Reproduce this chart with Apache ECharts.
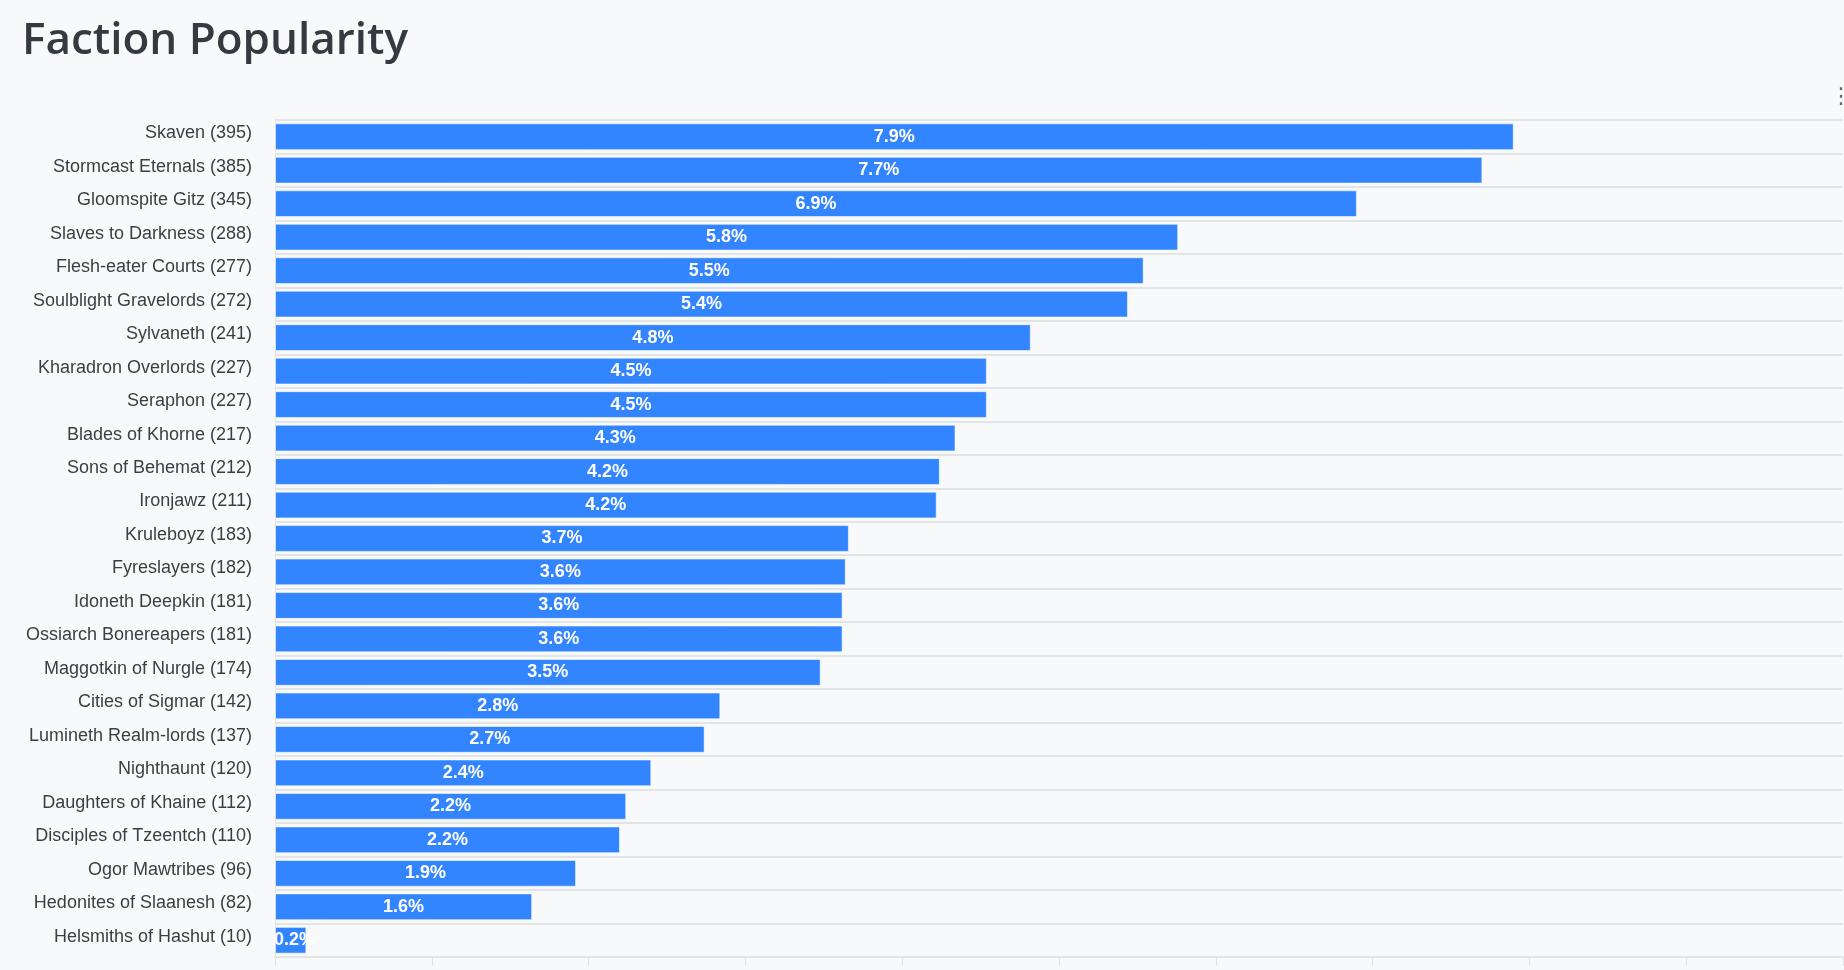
<!DOCTYPE html>
<html>
<head>
<meta charset="utf-8">
<script src="https://cdn.jsdelivr.net/npm/echarts@6/dist/echarts.min.js"></script>
<style>
html,body{margin:0;padding:0;background:#f8f9fa;}
#c{width:1844px;height:970px;}
</style>
</head>
<body>
<div id="c"></div>
<script>
const factions = ["Skaven","Stormcast Eternals","Gloomspite Gitz","Slaves to Darkness","Flesh-eater Courts","Soulblight Gravelords","Sylvaneth","Kharadron Overlords","Seraphon","Blades of Khorne","Sons of Behemat","Ironjawz","Kruleboyz","Fyreslayers","Idoneth Deepkin","Ossiarch Bonereapers","Maggotkin of Nurgle","Cities of Sigmar","Lumineth Realm-lords","Nighthaunt","Daughters of Khaine","Disciples of Tzeentch","Ogor Mawtribes","Hedonites of Slaanesh","Helsmiths of Hashut"];
const counts = [395,385,345,288,277,272,241,227,227,217,212,211,183,182,181,181,174,142,137,120,112,110,96,82,10];
const percents = ["7.9%","7.7%","6.9%","5.8%","5.5%","5.4%","4.8%","4.5%","4.5%","4.3%","4.2%","4.2%","3.7%","3.6%","3.6%","3.6%","3.5%","2.8%","2.7%","2.4%","2.2%","2.2%","1.9%","1.6%","0.2%"];
const axisMin = 0, axisMax = 500, axisStep = 50;
const titleText = "Faction Popularity";

const labels = factions.map((f,i)=>f+" ("+counts[i]+")");
const chart = echarts.init(document.getElementById('c'));
chart.setOption({
  backgroundColor:'#f8f9fa',
  animation:false,
  title:{text:titleText,left:17,top:14,textStyle:{fontFamily:'Open Sans',fontSize:44,fontWeight:600,color:'#343a40'}},
  graphic:[{type:'text',right:-8,top:86,style:{text:'⋮',fontSize:22,fill:'#666',fontFamily:'DejaVu Sans'}}],
  grid:{left:275,right:1,top:120,bottom:13,containLabel:false},
  xAxis:{type:'value',min:axisMin,max:axisMax,interval:axisStep,
    axisLabel:{show:false},
    axisLine:{show:true,lineStyle:{color:'#e3e4e6',width:2}},
    axisTick:{show:true,length:9,lineStyle:{color:'#e3e4e6',width:1}},
    splitLine:{show:false}},
  yAxis:{type:'category',data:labels,inverse:true,
    axisLine:{show:true,lineStyle:{color:'#e3e4e6',width:1}},
    axisTick:{show:false},
    axisLabel:{margin:23,formatter:v=>'{a|'+v+'}',
      rich:{a:{fontFamily:'Liberation Sans',fontSize:18,color:'#3b3f44',padding:[0,0,7,0]}}},
    splitLine:{show:true,lineStyle:{color:'#e3e4e6',width:2}}},
  series:[{type:'bar',data:counts,barCategoryGap:'20%',
    itemStyle:{color:'#3385ff',borderColor:'rgba(255,255,255,0.55)',borderWidth:1},
    label:{show:true,position:'inside',color:'#fff',fontWeight:'bold',fontFamily:'Liberation Sans',fontSize:18,
      formatter:p=>percents[p.dataIndex]},
    labelLayout:function(params){
      if(params.labelRect.x < params.rect.x){
        return {dx: params.rect.x - params.labelRect.x - 1};
      }
      return {};
    }}]
});
</script>
</body>
</html>
